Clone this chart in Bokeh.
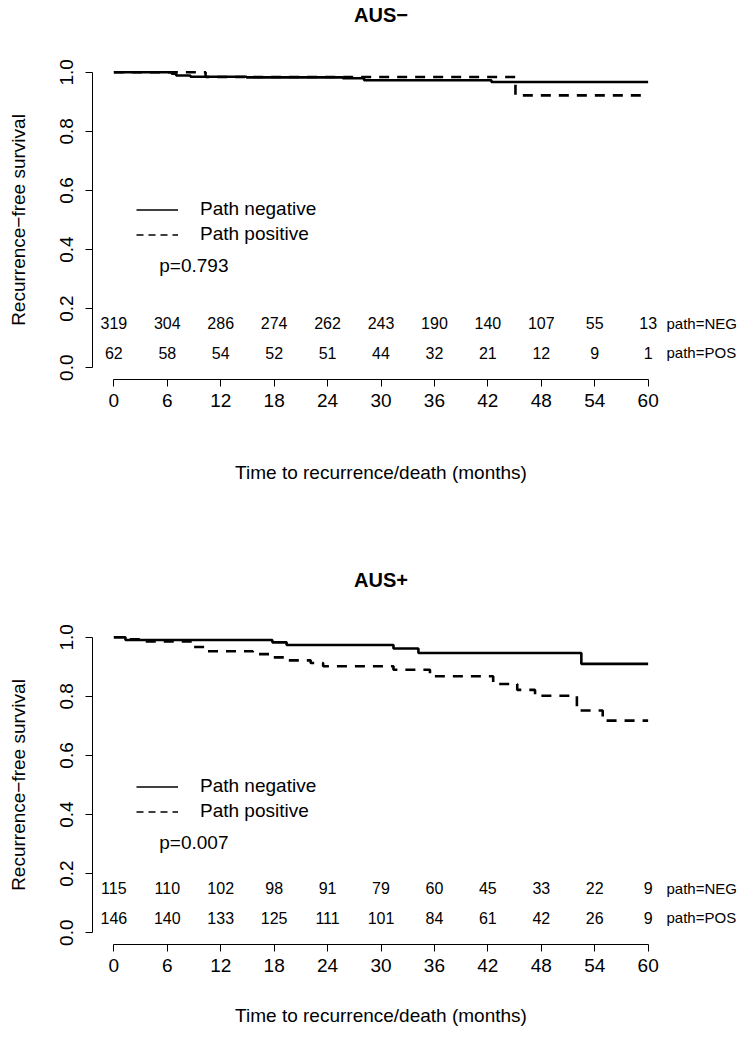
from bokeh.plotting import figure
from bokeh.models import (ColumnDataSource, FixedTicker, PrintfTickFormatter, Range1d,
                          Legend, LegendItem, LinearAxis)
from bokeh.layouts import column
from bokeh.embed import file_html
from bokeh.resources import INLINE
from bokeh.core.properties import value

FONT = "Liberation Sans"
NAN = float("nan")

# ---------------- data ----------------
titles = ["AUS\u2212", "AUS+"]
pvals = ["p=0.793", "p=0.007"]
group_labels = ["path=NEG", "path=POS"]
legend_labels = ["Path negative", "Path positive"]
x_ticks = [0, 6, 12, 18, 24, 30, 36, 42, 48, 54, 60]
y_ticks = [0.0, 0.2, 0.4, 0.6, 0.8, 1.0]
end_time = 60

# numbers at risk
top_neg_risk = [319, 304, 286, 274, 262, 243, 190, 140, 107, 55, 13]
top_pos_risk = [62, 58, 54, 52, 51, 44, 32, 21, 12, 9, 1]
bot_neg_risk = [115, 110, 102, 98, 91, 79, 60, 45, 33, 22, 9]
bot_pos_risk = [146, 140, 133, 125, 111, 101, 84, 61, 42, 26, 9]

# Kaplan-Meier step curves (time of each step, survival after step)
top_neg_t = [0, 6.5, 7.0, 8.6, 14.9, 25.7, 28.1, 42.4]
top_neg_s = [1.0, 0.995, 0.989, 0.985, 0.983, 0.980, 0.973, 0.967]
top_pos_t = [0, 10.3, 45.1]
top_pos_s = [1.0, 0.984, 0.922]
bot_neg_t = [0, 1.3, 17.8, 19.4, 31.4, 34.2, 52.5]
bot_neg_s = [1.0, 0.991, 0.983, 0.974, 0.962, 0.947, 0.910]
bot_pos_t = [0, 1.3, 3.0, 9.0, 10.2, 15.6, 17.9, 19.1, 22.1, 23.5, 31.4, 35.5,
             42.6, 45.3, 47.3, 52.0, 54.9]
bot_pos_s = [1.0, 0.993, 0.986, 0.967, 0.953, 0.943, 0.932, 0.922, 0.913, 0.902,
             0.890, 0.868, 0.842, 0.822, 0.802, 0.752, 0.718]

risk_rows = [0.15, 0.05]
legend_top_row = [0.52, 0.48]      # first legend row (top panel, bottom panel)
p_y = [0.345, 0.305]
p_x = 5.1

FRAME_H = 319
BORDER_TOP = 60
PX_PER_UNIT = FRAME_H / 1.08


def make_panel(title, pval, neg_t, neg_s, pos_t, pos_s, neg_risk, pos_risk,
               leg_row, py, height, xlab_standoff):
    border_bottom = height - BORDER_TOP - FRAME_H
    p = figure(width=739, height=height, output_backend="svg", toolbar_location=None,
               x_range=Range1d(-2.4, 62.4), y_range=Range1d(-0.04, 1.04),
               min_border_left=92, min_border_right=68, min_border_top=BORDER_TOP,
               min_border_bottom=border_bottom)
    p.outline_line_color = None
    p.grid.visible = False
    p.background_fill_color = "white"

    # axes (configure the default bottom / left axes first)
    xa = p.below[0]
    ya = p.left[0]
    xa.ticker = FixedTicker(ticks=x_ticks)
    xa.bounds = (0, 60)
    xa.axis_label = "Time to recurrence/death (months)"
    ya.ticker = FixedTicker(ticks=y_ticks)
    ya.formatter = PrintfTickFormatter(format="%.1f")
    ya.bounds = (0, 1)
    ya.axis_label = "Recurrence\u2212free survival"
    ya.major_label_orientation = "vertical"
    for ax in (xa, ya):
        ax.minor_tick_line_color = None
        ax.major_tick_out = 7
        ax.major_tick_in = 0
        ax.axis_line_color = "black"
        ax.major_tick_line_color = "black"
        ax.major_label_text_font = FONT
        ax.major_label_text_font_size = "19px"
        ax.major_label_text_color = "black"
        ax.axis_label_text_font = FONT
        ax.axis_label_text_font_size = "19px"
        ax.axis_label_text_font_style = "normal"
        ax.axis_label_text_color = "black"
    xa.major_label_standoff = 7
    xa.axis_label_standoff = xlab_standoff
    ya.major_label_standoff = 12
    ya.axis_label_standoff = 29

    # title drawn as the label of an invisible top axis, centred over the plot
    ta = LinearAxis(ticker=FixedTicker(ticks=[]), axis_line_color=None,
                    major_tick_line_color=None, minor_tick_line_color=None,
                    major_tick_out=0, major_tick_in=0, axis_label=title,
                    axis_label_text_font=FONT, axis_label_text_font_size="20px",
                    axis_label_text_font_style="bold", axis_label_text_color="black",
                    axis_label_standoff=35)
    p.add_layout(ta, "above")

    # group labels of the number-at-risk table, on the right of the frame
    ra = LinearAxis(ticker=FixedTicker(ticks=risk_rows),
                    major_label_overrides={risk_rows[0]: group_labels[0],
                                           risk_rows[1]: group_labels[1]},
                    axis_line_color=None, major_tick_line_color=None,
                    minor_tick_line_color=None, major_tick_out=0, major_tick_in=0,
                    major_label_standoff=-3, major_label_text_font=FONT,
                    major_label_text_font_size="15px",
                    major_label_text_color="black")
    p.add_layout(ra, "right")

    # curves
    p.step(neg_t + [end_time], neg_s + [neg_s[-1]], mode="after",
           line_color="black", line_width=2.6)
    p.step(pos_t + [end_time], pos_s + [pos_s[-1]], mode="after",
           line_color="black", line_width=2.6, line_dash="10 8")

    # legend (thin sample lines)
    r1 = p.line(x=[NAN], y=[NAN], line_color="black", line_width=1.3)
    r2 = p.line(x=[NAN], y=[NAN], line_color="black", line_width=1.3, line_dash="7 5")
    row_h, gap = 19, 3
    second_row = leg_row - (row_h + gap) / PX_PER_UNIT
    leg_y = int(round((second_row + 0.04) * PX_PER_UNIT - row_h / 2))
    leg = Legend(items=[LegendItem(label=legend_labels[0], renderers=[r1]),
                        LegendItem(label=legend_labels[1], renderers=[r2])],
                 location=(44, leg_y), padding=0, margin=0, spacing=gap,
                 glyph_width=42, glyph_height=row_h, label_height=row_h,
                 label_standoff=22, border_line_color=None,
                 background_fill_alpha=0, label_text_font=FONT,
                 label_text_font_size="19px", label_text_color="black")
    p.add_layout(leg)

    p.text(x=[p_x], y=[py], text=[pval], text_font=value(FONT),
           text_font_size="19px", text_align="left", text_baseline="middle")

    # numbers at risk
    src = ColumnDataSource(dict(
        x=x_ticks + x_ticks,
        y=[risk_rows[0]] * len(x_ticks) + [risk_rows[1]] * len(x_ticks),
        t=[str(v) for v in neg_risk] + [str(v) for v in pos_risk]))
    p.text(x="x", y="y", text="t", source=src, text_font=value(FONT),
           text_font_size="16px", text_align="center", text_baseline="middle")
    return p


p1 = make_panel(titles[0], pvals[0], top_neg_t, top_neg_s, top_pos_t, top_pos_s,
                top_neg_risk, top_pos_risk, legend_top_row[0], p_y[0], 565, 52)
p2 = make_panel(titles[1], pvals[1], bot_neg_t, bot_neg_s, bot_pos_t, bot_pos_s,
                bot_neg_risk, bot_pos_risk, legend_top_row[1], p_y[1], 469, 30)

layout = column(p1, p2, spacing=0)
open("out.html", "w").write(file_html(layout, INLINE))
